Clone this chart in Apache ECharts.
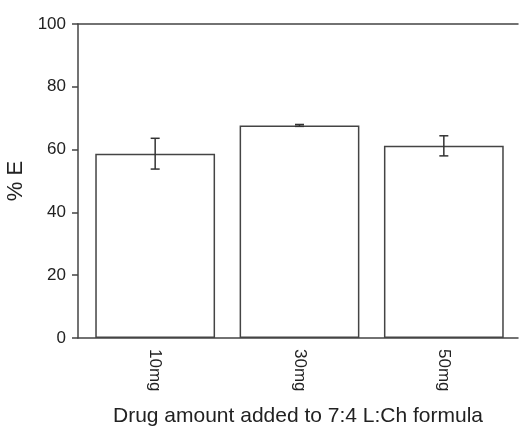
<!DOCTYPE html>
<html>
<head>
<meta charset="utf-8">
<script src="https://cdn.jsdelivr.net/npm/echarts@6/dist/echarts.min.js"></script>
<style>
  html, body { margin: 0; padding: 0; background: #fff; }
  #chart { width: 519px; height: 427px; }
</style>
</head>
<body>
<div id="chart"></div>
<script>
const categories = ['10mg', '30mg', '50mg'];
const means = [58.7, 67.7, 61.2];
const errors = [4.9, 0.3, 3.2];
const yTicks = [0, 20, 40, 60, 80, 100];

const lineColor = '#444';
const textColor = '#222';
const font = 'Liberation Sans';

const chart = echarts.init(document.getElementById('chart'));

chart.setOption({
  animation: false,
  grid: [
    // frame: axes and border lines
    { left: 78, right: 1, top: 24, bottom: 89, outerBoundsMode: 'none' },
    // bars, slightly inset like the original
    { left: 83, right: 3, top: 24, bottom: 89, outerBoundsMode: 'none' }
  ],
  xAxis: [
    {
      type: 'category',
      gridIndex: 0,
      data: categories,
      name: 'Drug amount added to 7:4 L:Ch formula',
      nameLocation: 'middle',
      nameGap: 68,
      nameTextStyle: { fontFamily: font, fontSize: 21, color: textColor },
      axisLine: { lineStyle: { color: lineColor, width: 1.5 } },
      axisTick: { show: false },
      axisLabel: { show: false }
    },
    {
      // top border of the frame
      type: 'category',
      gridIndex: 0,
      position: 'top',
      data: categories,
      axisLine: { lineStyle: { color: lineColor, width: 1.5 } },
      axisTick: { show: false },
      axisLabel: { show: false }
    },
    {
      type: 'category',
      gridIndex: 1,
      data: categories,
      axisLine: { show: false },
      axisTick: { show: false },
      axisLabel: {
        rotate: -90,
        margin: 11,
        fontFamily: font,
        fontSize: 17,
        color: textColor
      }
    }
  ],
  yAxis: [
    {
      type: 'value',
      gridIndex: 0,
      min: yTicks[0],
      max: yTicks[yTicks.length - 1],
      interval: 20,
      name: '% E',
      nameLocation: 'middle',
      nameGap: 48,
      nameTextStyle: { fontFamily: font, fontSize: 22, color: textColor },
      axisLine: { show: true, lineStyle: { color: lineColor, width: 1.5 } },
      axisTick: { show: true, length: 6, lineStyle: { color: lineColor, width: 1.5 } },
      axisLabel: { margin: 12, fontFamily: font, fontSize: 17, color: textColor },
      splitLine: { show: false }
    },
    {
      type: 'value',
      gridIndex: 1,
      min: yTicks[0],
      max: yTicks[yTicks.length - 1],
      interval: 20,
      show: false
    }
  ],
  series: [
    {
      type: 'bar',
      xAxisIndex: 2,
      yAxisIndex: 1,
      data: means,
      barWidth: '83%',
      itemStyle: { color: '#fff', borderColor: lineColor, borderWidth: 1.5 },
      silent: true
    },
    {
      type: 'custom',
      xAxisIndex: 2,
      yAxisIndex: 1,
      data: means.map((m, i) => [i, m - errors[i], m + errors[i]]),
      renderItem: (params, api) => {
        const lo = api.coord([api.value(0), api.value(1)]);
        const hi = api.coord([api.value(0), api.value(2)]);
        const cap = 4.5;
        const style = { stroke: '#333', lineWidth: 1.5 };
        return {
          type: 'group',
          children: [
            { type: 'line', shape: { x1: hi[0], y1: hi[1], x2: lo[0], y2: lo[1] }, style },
            { type: 'line', shape: { x1: hi[0] - cap, y1: hi[1], x2: hi[0] + cap, y2: hi[1] }, style },
            { type: 'line', shape: { x1: lo[0] - cap, y1: lo[1], x2: lo[0] + cap, y2: lo[1] }, style }
          ]
        };
      },
      z: 5,
      silent: true
    }
  ]
});
</script>
</body>
</html>
